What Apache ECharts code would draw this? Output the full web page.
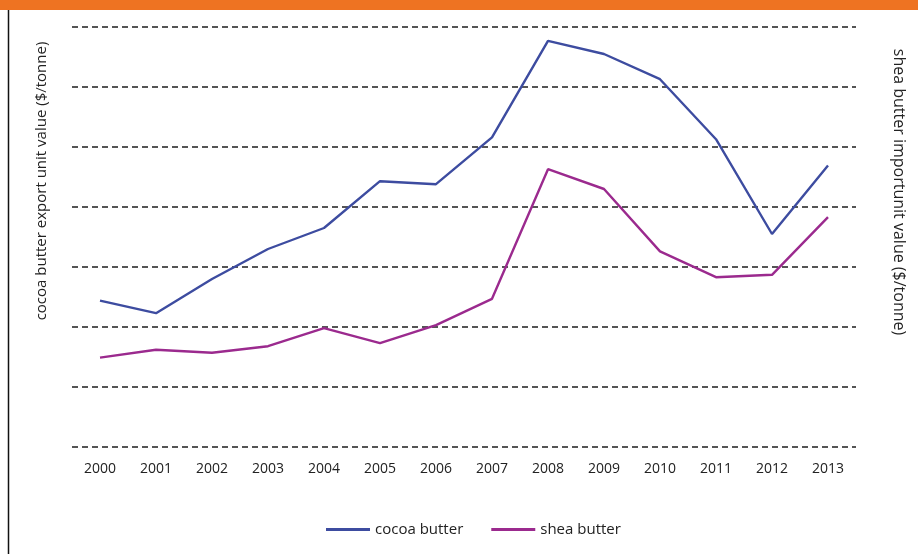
<!DOCTYPE html>
<html>
<head>
<meta charset="utf-8">
<script src="https://cdn.jsdelivr.net/npm/echarts@6/dist/echarts.min.js"></script>
<style>
  html, body { margin: 0; padding: 0; background: #fff; }
  #chart { width: 918px; height: 554px; }
</style>
</head>
<body>
<div id="chart"></div>
<script>
;(function () {
  'use strict';

  // data (grid units, no visible tick labels)
  var years = ['2000', '2001', '2002', '2003', '2004', '2005', '2006',
    '2007', '2008', '2009', '2010', '2011', '2012', '2013'];
  var cocoaButter = [2.44, 2.23, 2.8, 3.3, 3.65, 4.43, 4.38,
    5.16, 6.77, 6.55, 6.13, 5.13, 3.55, 4.69];
  var sheaButter = [1.49, 1.62, 1.57, 1.68, 1.98, 1.73, 2.03,
    2.47, 4.63, 4.3, 3.26, 2.83, 2.87, 3.83];

  var FONT = '"Open Sans", "Liberation Sans", sans-serif';
  var chart = echarts.init(document.getElementById('chart'));

  var options = {
    backgroundColor: '#fff',
    animation: false,
    textStyle: { fontFamily: FONT },
    grid: { left: 72, right: 62, top: 27, bottom: 107 },
    legend: {
      data: ['cocoa butter', 'shea butter'],
      left: 321,
      top: 517,
      icon: 'rect',
      itemWidth: 44,
      itemHeight: 3,
      itemGap: 28,
      textStyle: { color: '#222', fontSize: 15, fontFamily: FONT }
    },
    xAxis: {
      type: 'category',
      data: years,
      boundaryGap: true,
      axisLine: { show: false },
      axisTick: { show: false },
      axisLabel: { color: '#222', fontSize: 14, margin: 15 }
    },
    yAxis: {
      type: 'value',
      min: 0,
      max: 7,
      interval: 1,
      axisLine: { show: false },
      axisTick: { show: false },
      axisLabel: { show: false },
      splitLine: {
        show: true,
        lineStyle: { color: '#555', width: 2, type: [6, 4] }
      }
    },
    graphic: [
      {
        type: 'rect',
        shape: { x: 0, y: 0, width: 918, height: 10 },
        style: { fill: '#ee7322' },
        silent: true
      },
      {
        type: 'line',
        shape: { x1: 8.5, y1: 10, x2: 8.5, y2: 554 },
        style: { stroke: '#111', lineWidth: 1.5 },
        silent: true
      },
      {
        type: 'text',
        x: 42,
        y: 181,
        rotation: Math.PI / 2,
        style: {
          text: 'cocoa butter export unit value ($/tonne)',
          fill: '#222',
          font: '15px ' + FONT,
          align: 'center',
          verticalAlign: 'middle'
        },
        silent: true
      },
      {
        type: 'text',
        x: 899,
        y: 192,
        rotation: -Math.PI / 2,
        style: {
          text: 'shea butter importunit value ($/tonne)',
          fill: '#222',
          font: '16px ' + FONT,
          align: 'center',
          verticalAlign: 'middle'
        },
        silent: true
      }
    ],
    series: [
      {
        name: 'cocoa butter',
        type: 'line',
        data: cocoaButter,
        symbol: 'none',
        color: '#3d4ca0',
        lineStyle: { width: 2.4, color: '#3d4ca0' }
      },
      {
        name: 'shea butter',
        type: 'line',
        data: sheaButter,
        symbol: 'none',
        color: '#9b2a8e',
        lineStyle: { width: 2.4, color: '#9b2a8e' }
      }
    ]
  };

  chart.setOption(options);
})();
</script>
</body>
</html>
